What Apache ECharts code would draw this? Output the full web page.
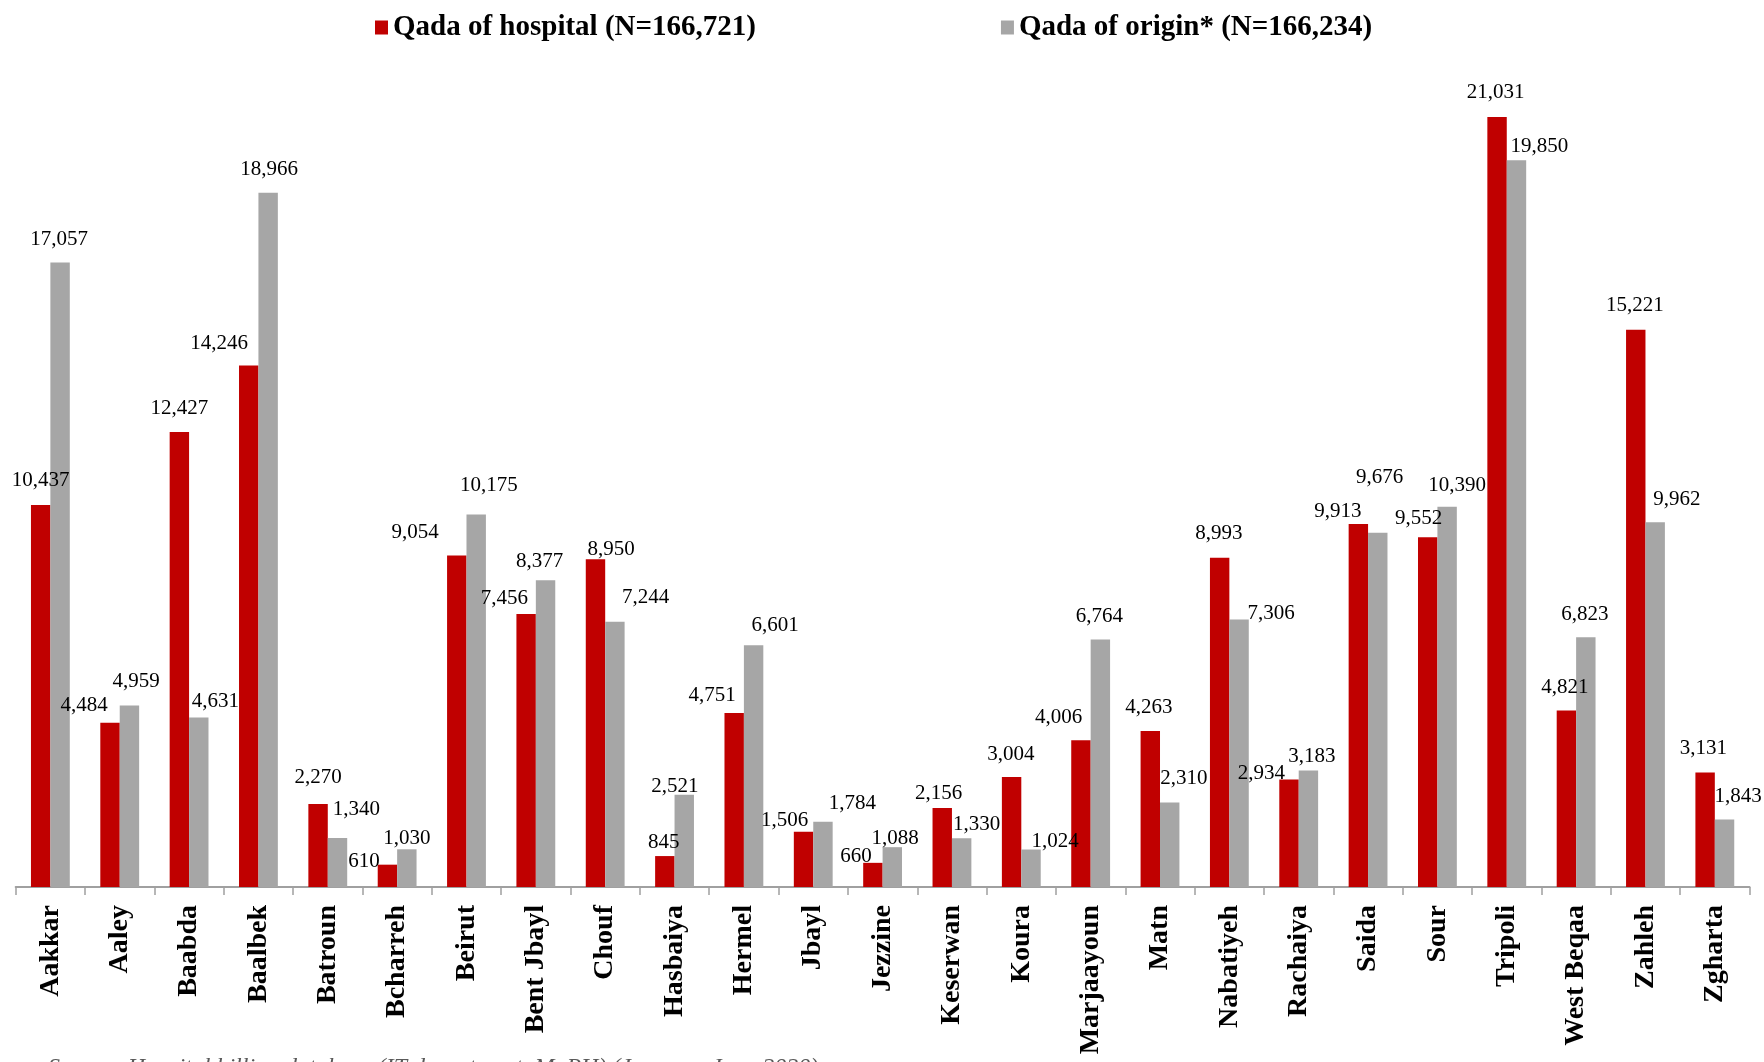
<!DOCTYPE html>
<html>
<head>
<meta charset="utf-8">
<script src="https://cdn.jsdelivr.net/npm/echarts@6/dist/echarts.min.js"></script>
<style>
html,body{margin:0;padding:0;background:#fff;}
#chart{width:1764px;height:1062px;}
</style>
</head>
<body>
<div id="chart"></div>
<script>
const categories = ['Aakkar','Aaley','Baabda','Baalbek','Batroun','Bcharreh','Beirut','Bent Jbayl','Chouf','Hasbaiya','Hermel','Jbayl','Jezzine','Keserwan','Koura','Marjaayoun','Matn','Nabatiyeh','Rachaiya','Saida','Sour','Tripoli','West Beqaa','Zahleh','Zgharta'];
const hospitalValues = [10437,4484,12427,14246,2270,610,9054,7456,8950,845,4751,1506,660,2156,3004,4006,4263,8993,2934,9913,9552,21031,4821,15221,3131];
const originValues = [17057,4959,4631,18966,1340,1030,10175,8377,7244,2521,6601,1784,1088,1330,1024,6764,2310,7306,3183,9676,10390,19850,6823,9962,1843];
const seriesNames = ['Qada of hospital (N=166,721)', 'Qada of origin* (N=166,234)'];
const sourceNote = 'Source: Hospital billing database (IT department, MoPH) (January–June 2020)';

// label nudges (style only): horizontal shift and height of label centre above the bar top
const hospLabelDx = [0,-25.8,0,-29.5,0,-23.5,-41.7,-21.7,15.6,-1,-22,-18.8,-16.8,-3.5,-0.7,-22.2,-1.5,-0.9,-27.7,-20.5,-9.1,-1.5,-1.6,-1,-1.7];
const hospLabelDy = [24,17.8,24,21.5,26,3,23.5,15.4,9.5,14,18,11,6,14.8,23,23,23,23.8,6,12.5,18.6,24.5,23.3,23.8,23.6];
const origLabelDx = [-1,6.7,16.7,1,18.8,0,12.8,-5.9,30.8,-9.3,21.4,29.4,2.7,14.9,24,-1,14.1,32.1,3.4,1.8,10.1,23,-1,21.7,13.5];
const origLabelDy = [23.5,23.5,16,23,28,11.3,29.4,18.9,24,8.7,20,18,8.8,14.3,8.1,22.8,23.5,6.5,13.8,55.6,21,13.6,23.2,23.3,22.6];

const chart = echarts.init(document.getElementById('chart'), null, {renderer:'canvas'});
const FONT = 'Liberation Serif, Times New Roman, serif';
const labelBase = {
  show: true, position: 'top', distance: 0, align: 'center', verticalAlign: 'middle',
  fontFamily: FONT, fontSize: 21, color: '#000',
  formatter: p => Number(p.value).toLocaleString('en-US')
};
function mk(values, dx, dy) {
  return values.map((v, i) => ({ value: v, label: { offset: [dx[i], -dy[i]] } }));
}
chart.setOption({
  animation: false,
  backgroundColor: '#fff',
  legend: {
    left: 370, top: 8, itemWidth: 13, itemHeight: 14, itemGap: 245,
    icon: 'rect',
    textStyle: { fontFamily: FONT, fontSize: 29, fontWeight: 'bold', color: '#000' },
    data: seriesNames
  },
  grid: { left: 15.7, right: 14.5, top: 81.6, bottom: 175, containLabel: false },
  xAxis: {
    type: 'category', data: categories,
    axisLine: { show: true, lineStyle: { color: '#a0a0a0', width: 2 } },
    axisTick: { show: true, length: 8, lineStyle: { color: '#a0a0a0', width: 1.5 } },
    axisLabel: { interval: 0, rotate: 90, margin: 18, fontFamily: FONT, fontSize: 28, fontWeight: 'bold', color: '#000' },
    splitLine: { show: false }
  },
  yAxis: { type: 'value', min: 0, max: 22000, show: false, splitLine: { show: false } },
  graphic: [{
    type: 'text', left: 48, top: 1056,
    style: { text: sourceNote, fontFamily: FONT, fontSize: 24, fontStyle: 'italic', fill: '#595959' }
  }],
  series: [
    { name: seriesNames[0], type: 'bar', barGap: '0%', barCategoryGap: '44%',
      itemStyle: { color: '#C00000' }, label: labelBase, data: mk(hospitalValues, hospLabelDx, hospLabelDy) },
    { name: seriesNames[1], type: 'bar', barGap: '0%', barCategoryGap: '44%',
      itemStyle: { color: '#A6A6A6' }, label: labelBase, data: mk(originValues, origLabelDx, origLabelDy) }
  ]
});
</script>
</body>
</html>
